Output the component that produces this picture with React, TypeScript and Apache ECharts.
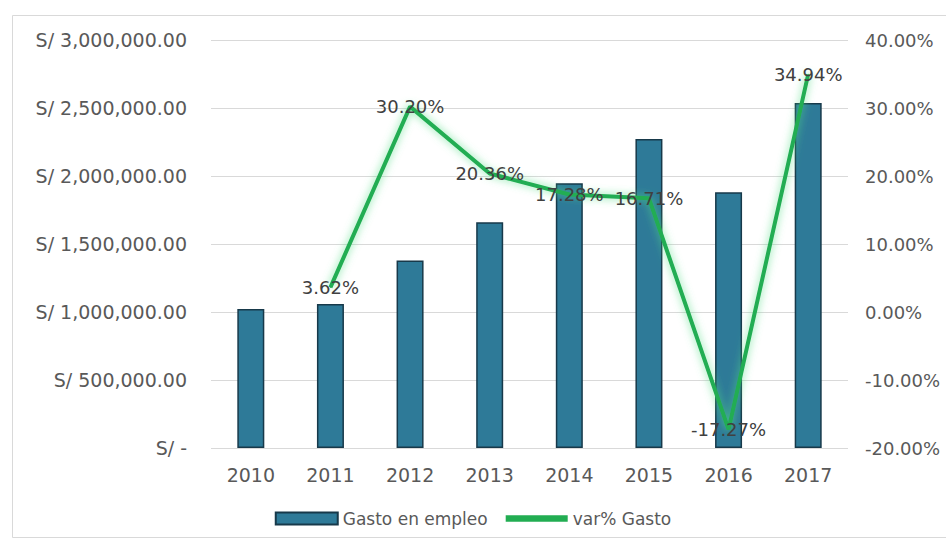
import React, { useEffect, useRef } from "react";
import * as echarts from "echarts";

const years = ["2010", "2011", "2012", "2013", "2014", "2015", "2016", "2017"];
const gastoEmpleo = [1022000, 1059000, 1379000, 1660000, 1947000, 2272000, 1880000, 2537000];
const varGasto: (number | null)[] = [null, 3.62, 30.2, 20.36, 17.28, 16.71, -17.27, 34.94];

const FONT = "DejaVu Sans";
const GREY = "#595959";
const GREEN = "#22ad52";

function fmtSoles(v: number): string {
  if (v === 0) return "S/ -";
  return "S/ " + v.toLocaleString("en-US", { minimumFractionDigits: 2, maximumFractionDigits: 2 });
}

export default function App() {
  const ref = useRef<HTMLDivElement>(null);
  useEffect(() => {
    if (!ref.current) return;
    const chart = echarts.init(ref.current, null, { renderer: "svg" });
    chart.setOption({
      animation: false,
      backgroundColor: "#ffffff",
      graphic: [
        {
          type: "rect",
          shape: { x: 12.5, y: 15.5, width: 940, height: 522 },
          style: { fill: "none", stroke: "#d9d9d9", lineWidth: 1 },
          silent: true,
        },
      ],
      grid: { left: 211, right: 98, top: 40, bottom: 94 },
      legend: {
        bottom: 10,
        left: "center",
        itemWidth: 62,
        itemHeight: 12,
        itemGap: 18,
        textStyle: { fontFamily: FONT, fontSize: 17, color: GREY },
        data: [
          { name: "Gasto en empleo", icon: "rect" },
          {
            name: "var% Gasto",
            icon: "path://M0,0h48v5h-48z",
            itemStyle: { color: GREEN, borderWidth: 0 },
          },
        ],
      },
      xAxis: {
        type: "category",
        data: years,
        axisLine: { show: false },
        axisTick: { show: false },
        axisLabel: { fontFamily: FONT, fontSize: 19, color: GREY, margin: 17 },
      },
      yAxis: [
        {
          type: "value",
          min: 0,
          max: 3000000,
          interval: 500000,
          axisLine: { show: false },
          axisTick: { show: false },
          splitLine: { lineStyle: { color: "#d9d9d9", width: 1 } },
          axisLabel: {
            fontFamily: FONT,
            fontSize: 19,
            color: GREY,
            margin: 24,
            formatter: (v: number) => fmtSoles(v),
          },
        },
        {
          type: "value",
          min: -20,
          max: 40,
          interval: 10,
          axisLine: { show: false },
          axisTick: { show: false },
          splitLine: { show: false },
          axisLabel: {
            fontFamily: FONT,
            fontSize: 18,
            color: GREY,
            margin: 17,
            formatter: (v: number) => v.toFixed(2) + "%",
          },
        },
      ],
      series: [
        {
          name: "Gasto en empleo",
          type: "bar",
          data: gastoEmpleo,
          barWidth: 27,
          itemStyle: { color: "#2e7a98", borderColor: "#17394a", borderWidth: 1.5 },
        },
        {
          name: "var% Gasto",
          type: "line",
          yAxisIndex: 1,
          data: varGasto,
          symbol: "circle",
          symbolSize: 1,
          showSymbol: true,
          lineStyle: {
            color: GREEN,
            width: 4,
            shadowColor: "rgba(80,220,130,0.8)",
            shadowBlur: 8,
          },
          itemStyle: { color: GREEN },
          label: {
            show: true,
            position: "inside",
            fontFamily: FONT,
            fontSize: 18,
            color: "#404040",
            formatter: (p: any) => (p.value == null ? "" : Number(p.value).toFixed(2) + "%"),
          },
          z: 5,
        },
      ],
    });
    return () => chart.dispose();
  }, []);
  return <div ref={ref} style={{ width: 946, height: 542, position: "absolute", left: 0, top: 0 }} />;
}
